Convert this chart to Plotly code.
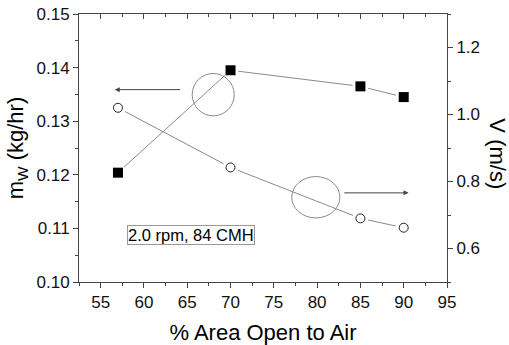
import plotly.graph_objects as go

# ---- data ----
area_open = [57, 70, 85, 90]                     # % Area Open to Air
m_w = [0.1204, 0.1395, 0.1365, 0.1345]           # kg/hr (left axis, filled squares)
velocity = [1.02, 0.842, 0.690, 0.662]           # m/s (right axis, open circles)

x_ticks = [55, 60, 65, 70, 75, 80, 85, 90, 95]
y_left_ticks = [0.10, 0.11, 0.12, 0.13, 0.14, 0.15]
y_right_ticks = [0.6, 0.8, 1.0, 1.2]

FONT = "Arial, Liberation Sans, sans-serif"
AX = "#444444"
LINE = "#8a8a8a"

fig = go.Figure()

# connecting lines
fig.add_trace(go.Scatter(x=area_open, y=m_w, mode="lines",
                         line=dict(color=LINE, width=1), xaxis="x", yaxis="y",
                         showlegend=False, hoverinfo="skip"))
# white halos to create gaps around the markers
fig.add_trace(go.Scatter(x=area_open, y=m_w, mode="markers",
                         marker=dict(symbol="circle", size=16, color="white"),
                         xaxis="x", yaxis="y", showlegend=False, hoverinfo="skip"))
fig.add_trace(go.Scatter(x=area_open, y=m_w, mode="markers",
                         marker=dict(symbol="square", size=10, color="black"),
                         xaxis="x", yaxis="y", showlegend=False))

fig.add_trace(go.Scatter(x=area_open, y=velocity, mode="lines",
                         line=dict(color=LINE, width=1), xaxis="x", yaxis="y2",
                         showlegend=False, hoverinfo="skip"))
fig.add_trace(go.Scatter(x=area_open, y=velocity, mode="markers",
                         marker=dict(symbol="circle", size=16, color="white"),
                         xaxis="x", yaxis="y2", showlegend=False, hoverinfo="skip"))
fig.add_trace(go.Scatter(x=area_open, y=velocity, mode="markers",
                         marker=dict(symbol="circle", size=9, color="white",
                                     line=dict(color="#222222", width=1)),
                         xaxis="x", yaxis="y2", showlegend=False))

# invisible trace to anchor the top mirror axis
fig.add_trace(go.Scatter(x=[60], y=[0.12], mode="markers", marker=dict(opacity=0),
                         xaxis="x2", yaxis="y", showlegend=False, hoverinfo="skip"))

# ellipses marking which axis each series belongs to
fig.add_shape(type="circle", xref="x", yref="y", x0=65.57, x1=70.43, y0=0.1310, y1=0.1389,
              line=dict(color=LINE, width=1))
fig.add_shape(type="circle", xref="x", yref="y", x0=77.07, x1=82.63, y0=0.11195, y1=0.11967,
              line=dict(color=LINE, width=1))

# arrows
fig.add_annotation(x=56.63, y=0.13589, ax=64.35, ay=0.13589, xref="x", yref="y",
                   axref="x", ayref="y", text="", showarrow=True, arrowhead=2,
                   arrowsize=1, arrowwidth=1, arrowcolor="#444444")
fig.add_annotation(x=90.56, y=0.11663, ax=82.97, ay=0.11663, xref="x", yref="y",
                   axref="x", ayref="y", text="", showarrow=True, arrowhead=2,
                   arrowsize=1, arrowwidth=1, arrowcolor="#444444")

# condition label
fig.add_annotation(x=65.4, y=0.10876, xref="x", yref="y", text="2.0 rpm, 84 CMH",
                   showarrow=False, font=dict(family=FONT, size=16.5, color="black"),
                   bordercolor="#999999", borderwidth=1, borderpad=0, bgcolor="white")

# right axis title (reads top to bottom)
fig.add_annotation(x=1, y=0.48, xref="paper", yref="paper", xanchor="center",
                   text="V (m/s)", textangle=90, showarrow=False, xshift=51,
                   font=dict(family=FONT, size=22, color="black"))

tickfont = dict(family=FONT, size=17, color="#111111")

fig.update_layout(
    width=509, height=345,
    margin=dict(l=79.3, r=62.3, t=14.3, b=62.5, autoexpand=False),
    paper_bgcolor="white", plot_bgcolor="white",
    showlegend=False,
    xaxis=dict(range=[52.5, 95], tickvals=x_ticks, ticks="outside", ticklen=5,
               tickwidth=1, tickcolor=AX, showline=True, linecolor=AX, linewidth=1,
               showgrid=False, zeroline=False, tickfont=tickfont, automargin=False,
               minor=dict(dtick=2.5, tick0=52.5, ticks="outside", ticklen=3,
                          tickcolor=AX, showgrid=False),
               title=dict(text="% Area Open to Air", font=dict(family=FONT, size=22,
                                                             color="black"),
                          standoff=14)),
    xaxis2=dict(range=[52.5, 95], overlaying="x", side="top", anchor="y",
                tickvals=x_ticks, ticks="inside", ticklen=5, tickcolor=AX,
                showticklabels=False, showline=True, linecolor=AX, linewidth=1,
                showgrid=False, zeroline=False, automargin=False,
                minor=dict(dtick=2.5, tick0=52.5, ticks="inside", ticklen=3,
                           tickcolor=AX, showgrid=False)),
    yaxis=dict(range=[0.10, 0.15], tickvals=y_left_ticks, tickformat=".2f",
               ticks="outside", ticklen=5, tickcolor=AX, showline=True,
               linecolor=AX, linewidth=1, showgrid=False, zeroline=False,
               tickfont=tickfont, automargin=False,
               minor=dict(dtick=0.005, tick0=0.10, ticks="outside", ticklen=3,
                          tickcolor=AX, showgrid=False),
               title=dict(text="m<sub>W</sub> (kg/hr)",
                          font=dict(family=FONT, size=22, color="black"),
                          standoff=6)),
    yaxis2=dict(range=[0.5, 1.3], overlaying="y", side="right", anchor="x",
                tickvals=y_right_ticks, tickformat=".1f", ticks="outside",
                ticklen=5, tickcolor=AX, showline=True, linecolor=AX, linewidth=1,
                showgrid=False, zeroline=False, tickfont=tickfont, automargin=False,
                minor=dict(dtick=0.1, tick0=0.5, ticks="outside", ticklen=3,
                           tickcolor=AX, showgrid=False)),
)

fig.write_html("out.html")
